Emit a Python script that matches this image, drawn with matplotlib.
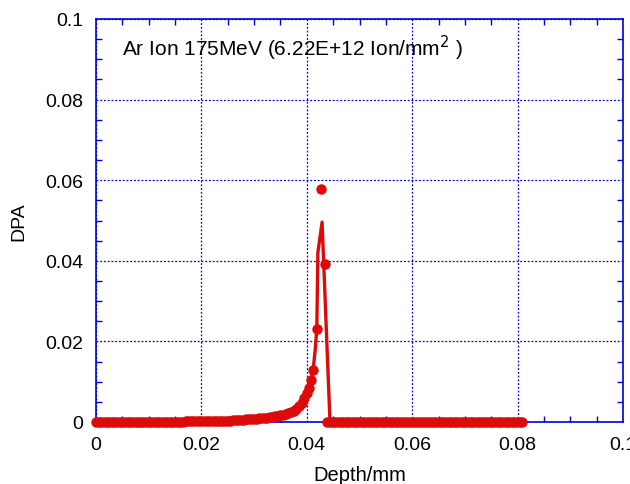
import numpy as np
import matplotlib
matplotlib.use('Agg')
import matplotlib.pyplot as plt
from matplotlib.ticker import MultipleLocator, FuncFormatter

plt.rcParams['font.family'] = ['Liberation Sans', 'DejaVu Sans']

# SRIM damage profile, raw points: depth in um, damage in dpa
depth_um = [0.0, 0.5, 1.0, 1.5, 2.0, 2.5, 3.0, 3.5, 4.0, 4.5, 5.0, 5.5, 6.0, 6.5, 7.0, 7.5,
            8.0, 8.5, 9.0, 9.5, 10.0, 10.5, 11.0, 11.5, 12.0, 12.5, 13.0, 13.5, 14.0, 14.5,
            15.0, 15.5, 16.0, 16.5, 17.0, 17.5, 18.0, 18.5, 19.0, 19.5, 20.0, 20.5, 21.0,
            21.5, 22.0, 22.5, 23.0, 23.5, 24.0, 24.5, 25.0, 25.5, 26.0, 26.5, 27.0, 27.5,
            28.0, 28.5, 29.0, 29.5, 30.0, 30.5, 31.0, 31.5, 32.0, 32.5, 33.0, 33.5, 34.0,
            34.5, 35.0, 35.5, 36.0, 36.5, 37.0, 37.5, 38.0, 38.5, 39.0, 39.5, 40.0, 40.4,
            40.8, 41.2, 41.9, 42.7, 43.4,
            43.9, 44.4, 44.9, 45.4, 45.9, 46.4, 46.9, 47.4, 47.9, 48.4, 48.9, 49.4, 49.9,
            50.4, 50.9, 51.4, 51.9, 52.4, 52.9, 53.4, 53.9, 54.4, 54.9, 55.4, 55.9, 56.4,
            56.9, 57.4, 57.9, 58.4, 58.9, 59.4, 59.9, 60.4, 60.9, 61.4, 61.9, 62.4, 62.9,
            63.4, 63.9, 64.4, 64.9, 65.4, 65.9, 66.4, 66.9, 67.4, 67.9, 68.4, 68.9, 69.4,
            69.9, 70.4, 70.9, 71.4, 71.9, 72.4, 72.9, 73.4, 73.9, 74.4, 74.9, 75.4, 75.9,
            76.4, 76.9, 77.4, 77.9, 78.4, 78.9, 79.4, 79.9, 80.4, 80.9]
dpa_pts = [0.0, 0.0, 0.0, 0.0, 0.0, 0.0, 0.0, 0.0, 0.0, 0.0, 0.0, 0.0, 0.0, 0.0, 0.0, 0.0,
           0.0, 0.0, 0.0, 0.0, 0.0, 0.0, 0.0, 0.0, 0.0, 0.0, 0.0, 0.0, 0.0, 0.0,
           0.0, 0.0, 0.0, 0.0, 0.0003, 0.0003, 0.0003, 0.0003, 0.0003, 0.0003, 0.0003, 0.0003, 0.0003,
           0.0003, 0.0003, 0.0003, 0.0003, 0.0003, 0.0003, 0.0003, 0.0003, 0.0003, 0.0004, 0.00045, 0.0005, 0.00055,
           0.0006, 0.00065, 0.0007, 0.00075, 0.0008, 0.00085, 0.0009, 0.00095, 0.0010, 0.0011, 0.0012, 0.0013, 0.0014,
           0.00155, 0.0017, 0.00185, 0.0020, 0.00225, 0.0025, 0.0028, 0.0032, 0.0040, 0.0047, 0.0059, 0.0072, 0.0084,
           0.0105, 0.0129, 0.0231, 0.0578, 0.0392,
           0.0, 0.0, 0.0, 0.0, 0.0, 0.0, 0.0, 0.0, 0.0, 0.0, 0.0, 0.0, 0.0,
           0.0, 0.0, 0.0, 0.0, 0.0, 0.0, 0.0, 0.0, 0.0, 0.0, 0.0, 0.0, 0.0,
           0.0, 0.0, 0.0, 0.0, 0.0, 0.0, 0.0, 0.0, 0.0, 0.0, 0.0, 0.0, 0.0,
           0.0, 0.0, 0.0, 0.0, 0.0, 0.0, 0.0, 0.0, 0.0, 0.0, 0.0, 0.0, 0.0,
           0.0, 0.0, 0.0, 0.0, 0.0, 0.0, 0.0, 0.0, 0.0, 0.0, 0.0, 0.0, 0.0,
           0.0, 0.0, 0.0, 0.0, 0.0, 0.0, 0.0, 0.0, 0.0, 0.0]

# smoothed curve
depth_line_um = [0.0, 17.0, 26.0, 30.0, 34.0, 36.0, 38.0, 39.0, 40.0, 40.5,
                 41.2, 41.6, 41.9, 42.1, 42.9, 44.4, 80.9]
dpa_line = [0.0000, 0.0003, 0.0004, 0.0008, 0.0014, 0.0020, 0.0032, 0.0047, 0.0072, 0.0090,
            0.0129, 0.0180, 0.0231, 0.0420, 0.0496, 0.0000, 0.0000]

title = 'Ar Ion 175MeV (6.22E+12 Ion/mm$^{2}$ )'

red = '#dd0a0a'
blue = '#0000dd'

depth_mm = np.array(depth_um) / 1000
depth_line_mm = np.array(depth_line_um) / 1000

fig = plt.figure(figsize=(6.3, 4.85), dpi=100)
ax = fig.add_axes([96/630, 1-423/485, 527/630, 403/485])

ax.plot(depth_line_mm, dpa_line, color=red, lw=2.4, zorder=3, clip_on=False)
ax.plot(depth_mm, dpa_pts, 'o', color=red, ms=6.5, mec=red, zorder=4, clip_on=False)

ax.set_xlim(0, 0.1)
ax.set_ylim(0, 0.1)
ax.xaxis.set_major_locator(MultipleLocator(0.02))
ax.yaxis.set_major_locator(MultipleLocator(0.02))
ax.xaxis.set_minor_locator(MultipleLocator(0.005))
ax.yaxis.set_minor_locator(MultipleLocator(0.005))
fmt = FuncFormatter(lambda v, p: '%g' % round(v, 4))
ax.xaxis.set_major_formatter(fmt)
ax.yaxis.set_major_formatter(fmt)

ax.grid(True, which='major', color=blue, ls=(0, (1.5, 1.5)), lw=0.9)
for s in ax.spines.values():
    s.set_color(blue)
    s.set_linewidth(1.2)
ax.tick_params(which='both', direction='in', top=True, right=True, color=blue,
               labelsize=14, width=1)
ax.tick_params(which='major', length=0)
ax.tick_params(axis='x', which='major', pad=10)
ax.tick_params(axis='y', which='major', pad=9)
ax.tick_params(which='minor', length=4.5)

ax.set_xlabel('Depth/mm', fontsize=14.5, labelpad=9)
ax.set_ylabel('DPA', fontsize=14, labelpad=13)
ax.text(0.05, 0.93, title, transform=ax.transAxes, fontsize=15, va='center')

fig.savefig('out.png', dpi=100)
